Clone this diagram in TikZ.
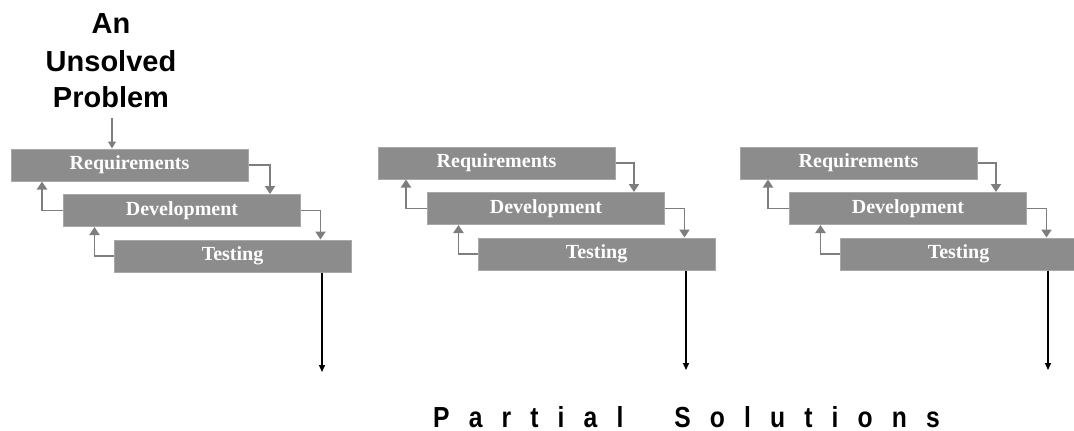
\documentclass[tikz,border=0pt]{standalone}
\usepackage{fontspec}
\setmainfont{Liberation Serif}
\newfontfamily\headfont{Liberation Sans Bold}
\newfontfamily\spacedfont[LetterSpace=66,FakeStretch=0.85]{Liberation Sans Bold}
\usetikzlibrary{arrows.meta}
\definecolor{boxfill}{HTML}{8C8C8C}
\definecolor{boxline}{HTML}{A8A8A8}
\definecolor{flowgray}{HTML}{7E7E7E}
\begin{document}
\begin{tikzpicture}[x=1pt,y=-1pt,
  phase/.style={draw=boxline, line width=1pt, fill=boxfill,
    minimum width=237pt, minimum height=32pt, inner sep=0pt,
    text=white, font=\fontsize{20}{20}\selectfont\bfseries},
  flow/.style={draw=flowgray, line width=1.9pt,
    -{Triangle[width=10pt,length=8pt]}},
  inflow/.style={draw=flowgray, line width=1.3pt,
    -{Triangle[width=8pt,length=7pt]}},
  outflow/.style={draw=black, line width=1.4pt,
    -{Triangle[width=6pt,length=7pt]}},
  headline/.style={anchor=base, inner sep=0pt,
    font=\headfont\fontsize{29}{29}\selectfont},
  footline/.style={anchor=base west, inner sep=0pt,
    font=\spacedfont\fontsize{29}{29}\selectfont}]

% page
\fill[white] (0,0) rectangle (1074,431);
\useasboundingbox (0,0) rectangle (1074,431);

% problem statement
\node[headline] (hAn) at (111,33) {An};
\node[headline] (hUnsolved) at (111,71) {Unsolved};
\node[headline] (hProblem) at (111,107) {Problem};
\coordinate (inflowstart) at (112,118);

% three iterations of the cycle
\foreach \g/\dx/\dy/\rx in {1/0/0/0, 2/364/-2/3, 3/726/-2/3} {
  \begin{scope}[shift={(\dx,\dy)}]
    \node[phase] (req\g) at (129.5+\rx,165) {Requirements};
    \node[phase] (dev\g) at (182,210.5) {Development};
    \node[phase] (tst\g) at (232.5,256) {Testing};
    % forward steps
    \draw[flow] (req\g.east) -| ([xshift=207pt]dev\g.north west);
    \draw[flow] (dev\g.east) -| ([xshift=207pt]tst\g.north west);
    % feedback steps
    \draw[flow] (dev\g.west) -| ([xshift=-21pt]dev\g.west |- req\g.south);
    \draw[flow] (tst\g.west) -| ([xshift=-19pt]tst\g.west |- dev\g.south);
    % result
    \coordinate (sol\g) at (322,372);
    \draw[outflow] (tst\g.south -| sol\g) -- (sol\g);
  \end{scope}
}

\draw[inflow] (inflowstart) -- (inflowstart |- req1.north);

% outcome
\node[footline] (partial) at (433,427) {Partial\hspace{25pt} Solutions};
\end{tikzpicture}
\end{document}
